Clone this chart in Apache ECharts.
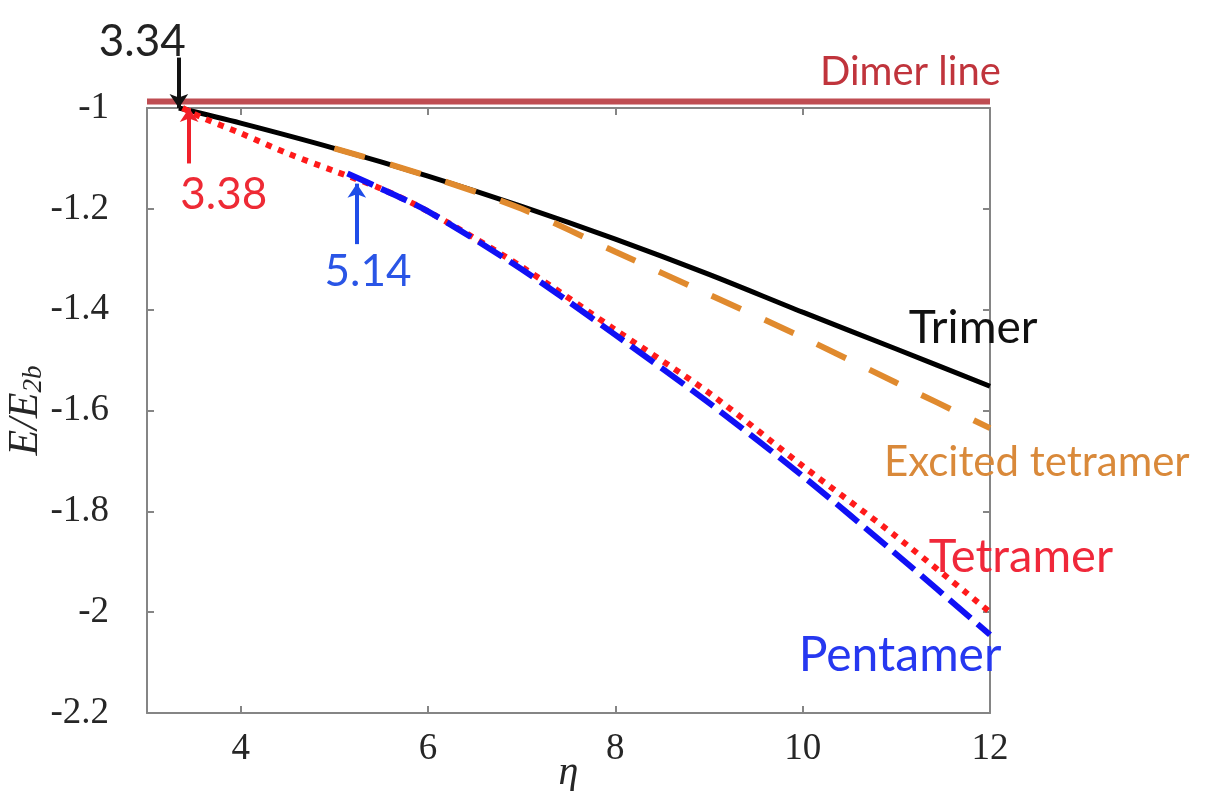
<!DOCTYPE html>
<html>
<head>
<meta charset="utf-8">
<script src="https://cdn.jsdelivr.net/npm/echarts@6/dist/echarts.min.js"></script>
<style>
  html, body { margin: 0; padding: 0; background: #fff; }
  #chart { width: 1223px; height: 791px; }
</style>
</head>
<body>
<div id="chart"></div>
<script>
// axis ticks
const xTicks = [4, 6, 8, 10, 12];
const yTicks = [-2.2, -2, -1.8, -1.6, -1.4, -1.2, -1];

// curves: [eta, E/E2b]
const trimer = [[3.34, -1.0], [4, -1.03], [5, -1.08], [6, -1.135], [7, -1.195], [8, -1.26], [9, -1.33], [10, -1.405], [11, -1.478], [12, -1.552]];
const excitedTetramer = [[5, -1.08], [6, -1.135], [7, -1.2], [8, -1.285], [9, -1.37], [10, -1.455], [11, -1.545], [12, -1.635]];
const tetramer = [[3.38, -1.0], [3.6, -1.02], [4, -1.05], [4.5, -1.09], [5, -1.125], [5.5, -1.16], [6, -1.205], [7, -1.315], [8, -1.44], [9, -1.565], [10, -1.71], [11, -1.85], [12, -2.0]];
const pentamer = [[5.14, -1.13], [5.5, -1.16], [6, -1.205], [7, -1.32], [8, -1.45], [9, -1.585], [10, -1.73], [11, -1.885], [12, -2.045]];
const dimerLine = [[3, -0.987], [12, -0.987]];

// arrows: start and end points
const arrowFrom = [[3.34, -0.9], [3.45, -1.11], [5.24, -1.27]];
const arrowTo = [[3.34, -1.0], [3.45, -1.0], [5.24, -1.15]];

// text annotations
const noteText = ['3.34', '3.38', '5.14', 'Dimer line', 'Trimer', 'Excited tetramer', 'Tetramer', 'Pentamer'];
const noteX = [2.95, 3.82, 5.36, 11.15, 11.82, 12.5, 12.33, 11.04];
const noteY = [-0.869, -1.173, -1.325, -0.929, -1.437, -1.704, -1.891, -2.085];

// styles
const arrowColors = ['#111111', '#f0202a', '#1f4de8'];
const noteStyle = {
  '3.34': { color: '#222222', size: 44 },
  '3.38': { color: '#ee2a35', size: 44 },
  '5.14': { color: '#2a55e6', size: 44 },
  'Dimer line': { color: '#c0343c', size: 40 },
  'Trimer': { color: '#111111', size: 46 },
  'Excited tetramer': { color: '#d9893a', size: 42 },
  'Tetramer': { color: '#f0283a', size: 47 },
  'Pentamer': { color: '#2638f0', size: 48 }
};

const chart = echarts.init(document.getElementById('chart'), null, { renderer: 'canvas' });

const axisGrey = '#858585';
const tickFont = { fontFamily: 'Liberation Serif', fontSize: 37, color: '#262626' };

const option = {
  backgroundColor: '#ffffff',
  animation: false,
  grid: { left: 147, right: 233, top: 108, bottom: 78, outerBoundsMode: 'none', containLabel: false },
  xAxis: [{
    type: 'value',
    min: 3,
    max: 12,
    name: 'η',
    nameLocation: 'middle',
    nameGap: 40,
    nameMoveOverlap: false,
    nameTextStyle: { fontFamily: 'Liberation Serif', fontStyle: 'italic', fontSize: 40, color: '#262626' },
    axisLine: { lineStyle: { color: axisGrey, width: 2 } },
    axisTick: { inside: true, length: 7, customValues: xTicks, lineStyle: { color: axisGrey, width: 2 } },
    axisLabel: Object.assign({ margin: 18, customValues: xTicks }, tickFont),
    splitLine: { show: false }
  }, {
    type: 'value',
    position: 'top',
    min: 3,
    max: 12,
    axisLine: { show: true, lineStyle: { color: axisGrey, width: 2 } },
    axisTick: { inside: true, length: 7, customValues: xTicks, lineStyle: { color: axisGrey, width: 2 } },
    axisLabel: { show: false },
    splitLine: { show: false }
  }],
  yAxis: [{
    type: 'value',
    min: -2.2,
    max: -1,
    name: '{e|E/E}{s|2b}',
    nameLocation: 'middle',
    nameRotate: 90,
    nameGap: 100,
    nameMoveOverlap: false,
    nameTextStyle: {
      rich: {
        e: { fontFamily: 'Liberation Serif', fontStyle: 'italic', fontSize: 42, color: '#262626' },
        s: { fontFamily: 'Liberation Serif', fontStyle: 'italic', fontSize: 27, color: '#262626', verticalAlign: 'bottom', padding: [14, 0, 0, 0] }
      }
    },
    axisLine: { show: true, lineStyle: { color: axisGrey, width: 2 } },
    axisTick: { inside: true, length: 7, customValues: yTicks, lineStyle: { color: axisGrey, width: 2 } },
    axisLabel: Object.assign({ margin: 38, customValues: yTicks }, tickFont),
    splitLine: { show: false }
  }, {
    type: 'value',
    position: 'right',
    min: -2.2,
    max: -1,
    axisLine: { show: true, lineStyle: { color: axisGrey, width: 2 } },
    axisTick: { inside: true, length: 7, customValues: yTicks, lineStyle: { color: axisGrey, width: 2 } },
    axisLabel: { show: false },
    splitLine: { show: false }
  }],
  series: [
    {
      name: 'Dimer line', type: 'line', data: dimerLine, clip: false, symbol: 'none', z: 5,
      lineStyle: { color: '#bf4d52', width: 6 }
    },
    {
      name: 'Trimer', type: 'line', data: trimer, smooth: 0.3, symbol: 'none', z: 3,
      lineStyle: { color: '#000000', width: 5 }
    },
    {
      name: 'Tetramer', type: 'line', data: tetramer, smooth: 0.3, symbol: 'none', z: 4,
      lineStyle: { color: '#ff1a1a', width: 6, type: [6, 7] }
    },
    {
      name: 'Pentamer', type: 'line', data: pentamer, smooth: 0.3, symbol: 'none', z: 5,
      lineStyle: { color: '#1010f5', width: 6, type: [28, 9] }
    },
    {
      name: 'Excited tetramer', type: 'line', data: excitedTetramer, smooth: 0.3, symbol: 'none', z: 6,
      lineStyle: { color: '#e08a2e', width: 6, type: [32, 26] }
    },
    {
      name: 'arrows', type: 'lines', coordinateSystem: 'cartesian2d', clip: false, z: 7,
      symbol: ['none', 'arrow'], symbolSize: 14,
      data: arrowFrom.map((p, i) => ({
        coords: [p, arrowTo[i]],
        lineStyle: { color: arrowColors[i], width: 4, opacity: 1 }
      }))
    },
    {
      name: 'notes', type: 'scatter', clip: false, z: 8, symbolSize: 1,
      itemStyle: { color: 'rgba(0,0,0,0)', opacity: 1 },
      data: noteText.map((t, i) => ({
        value: [noteX[i], noteY[i]],
        label: {
          show: true, position: 'inside', formatter: t,
          fontFamily: 'Lato', fontSize: noteStyle[t].size, color: noteStyle[t].color
        }
      }))
    }
  ]
};

chart.setOption(option);
</script>
</body>
</html>
